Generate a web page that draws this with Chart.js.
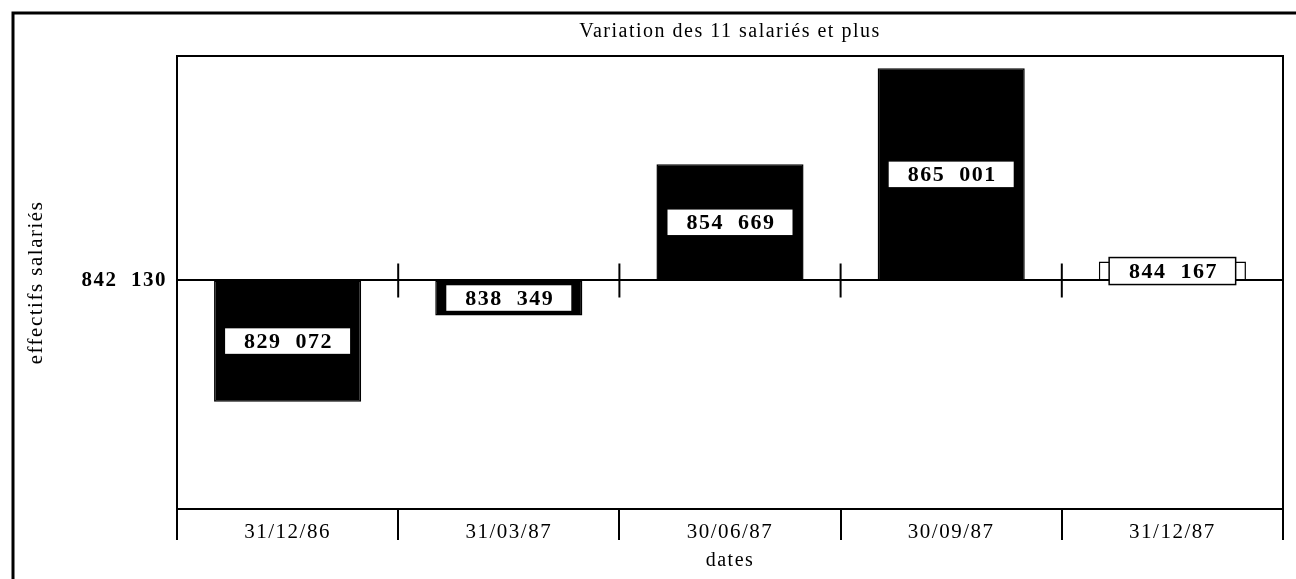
<!DOCTYPE html>
<html>
<head>
<meta charset="utf-8">
<script src="https://cdn.jsdelivr.net/npm/chart.js@4.4.1/dist/chart.umd.min.js"></script>
<style>
  html, body { margin: 0; padding: 0; background: #fff; }
  #wrap { width: 1296px; height: 579px; }
</style>
</head>
<body>
<div id="wrap"><canvas id="graph"></canvas></div>
<script>
var dates = ["31/12/86", "31/03/87", "30/06/87", "30/09/87", "31/12/87"];
var effectifs = [829072, 838349, 854669, 865001, 844167];
var reference = 842130;
var remplissage = ["#000", "#000", "#000", "#000", "#fff"];

function fmt(v) {
    return String(v).replace(/\B(?=(\d{3})+(?!\d))/g, "  ");
}

var serif = "'Liberation Serif', 'DejaVu Serif', serif";

// texte un peu espace comme sur l'original
var espacement = {
    id: "espacement",
    beforeUpdate: function (chart) { chart.ctx.letterSpacing = "1.5px"; },
    beforeLayout: function (chart) { chart.ctx.letterSpacing = "1.5px"; },
    beforeDraw: function (chart) { chart.ctx.letterSpacing = "1.5px"; }
};

// cadre, bord du graphe et petits traits sur la ligne de reference
var decor = {
    id: "decor",
    afterDraw: function (chart) {
        var ctx = chart.ctx, a = chart.chartArea;
        var x = chart.scales.x, y = chart.scales.y;
        ctx.save();
        ctx.strokeStyle = "#000";
        ctx.lineWidth = 3;
        ctx.strokeRect(13, 13, 1300, 600);
        ctx.lineWidth = 2;
        ctx.strokeRect(a.left, a.top, a.right - a.left, a.bottom - a.top);
        var yb = y.getPixelForValue(reference);
        for (var i = 0; i < dates.length - 1; i++) {
            var xb = (x.getPixelForValue(i) + x.getPixelForValue(i + 1)) / 2;
            ctx.beginPath();
            ctx.moveTo(xb, yb - 17);
            ctx.lineTo(xb, yb + 17);
            ctx.stroke();
        }
        ctx.restore();
    }
};

// etiquettes blanches au milieu des barres
var etiquettes = {
    id: "etiquettes",
    afterDatasetsDraw: function (chart) {
        var ctx = chart.ctx;
        var meta = chart.getDatasetMeta(0);
        ctx.save();
        ctx.font = "bold 22px " + serif;
        ctx.textAlign = "center";
        ctx.textBaseline = "middle";
        meta.data.forEach(function (bar, i) {
            var cy = (bar.y + bar.base) / 2;
            var w = bar.width * 0.86, h = 27;
            ctx.fillStyle = "#fff";
            ctx.fillRect(bar.x - w / 2, cy - h / 2, w, h);
            ctx.strokeStyle = "#000";
            ctx.lineWidth = 1.5;
            ctx.strokeRect(bar.x - w / 2, cy - h / 2, w, h);
            ctx.fillStyle = "#000";
            ctx.fillText(fmt(effectifs[i]), bar.x + 1, cy + 1);
        });
        ctx.restore();
    }
};

new Chart(document.getElementById("graph"), {
    type: "bar",
    data: {
        labels: dates,
        datasets: [{
            data: effectifs.map(function (v) { return [reference, v]; }),
            backgroundColor: remplissage,
            borderColor: "#000",
            borderWidth: 1.5,
            borderSkipped: false,
            barPercentage: 0.665,
            categoryPercentage: 1
        }]
    },
    options: {
        responsive: true,
        maintainAspectRatio: false,
        animation: false,
        layout: { padding: { left: 12, right: 13, top: 0, bottom: 0 } },
        plugins: {
            legend: { display: false },
            tooltip: { enabled: false },
            title: {
                display: true,
                text: "Variation des 11 salariés et plus",
                fullSize: false,
                color: "#000",
                font: { family: serif, size: 20, weight: "normal" },
                padding: { top: 20, bottom: 12 }
            }
        },
        scales: {
            x: {
                offset: true,
                grid: {
                    offset: true,
                    drawOnChartArea: false,
                    color: "#000",
                    lineWidth: 2,
                    tickLength: 31
                },
                border: { color: "#000", width: 2 },
                ticks: {
                    color: "#000",
                    padding: -20,
                    font: { family: serif, size: 21 }
                },
                title: {
                    display: true,
                    text: "dates",
                    color: "#000",
                    font: { family: serif, size: 20 },
                    padding: { top: 0, bottom: 6 }
                },
                afterFit: function (s) { s.height = 70; }
            },
            y: {
                min: 817506,
                max: 866322,
                afterBuildTicks: function (s) { s.ticks = [{ value: reference }]; },
                grid: {
                    drawTicks: false,
                    color: "#000",
                    lineWidth: 2
                },
                border: { color: "#000", width: 2 },
                ticks: {
                    color: "#000",
                    padding: 10,
                    font: { family: serif, size: 21, weight: "bold" },
                    callback: function (v) { return fmt(v); }
                },
                title: {
                    display: true,
                    text: "effectifs salariés",
                    color: "#000",
                    font: { family: serif, size: 21 },
                    padding: { top: 12, bottom: 0 }
                },
                afterFit: function (s) { s.width = 165; }
            }
        }
    },
    plugins: [espacement, decor, etiquettes]
});
</script>
</body>
</html>
